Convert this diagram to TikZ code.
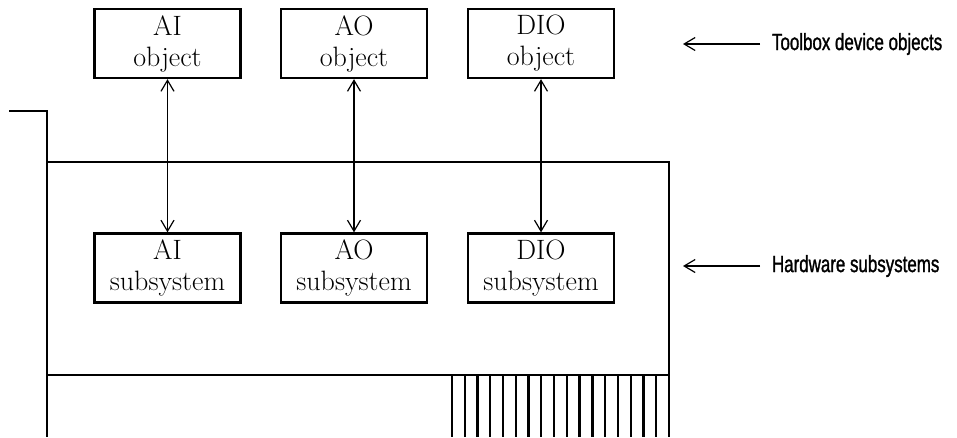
\documentclass[tikz,border=0pt]{standalone}
\usepackage{fontspec}
\usetikzlibrary{arrows.meta}
\newfontfamily\labelfont[FakeStretch=0.72,FakeBold=1.2]{Liberation Sans}

\begin{document}
\begin{tikzpicture}[
        x=1pt, y=-1pt,
        >={Straight Barb[length=11pt,width=13pt]},
        board/.style={line width=2.3pt},
        unitbox/.style={draw, line width=2.3pt, minimum width=146pt, minimum height=69pt,
            align=center, inner sep=0pt, font=\fontsize{28}{31}\selectfont},
        link/.style={<->, line width=1.2pt},
        sidelabel/.style={anchor=west, inner sep=0pt, outer xsep=12pt,
            font=\labelfont\fontsize{23.5}{26}\selectfont},
        pointer/.style={->, line width=1.2pt}
    ]
    \useasboundingbox (0,0) rectangle (957,437);

    % board outline
    \draw[board] (9,111) -- (47,111) -- (47,437);
    \draw[board] (47,162) -- (669,162) -- (669,437);
    \draw[board] (47,375) -- (669,375);
    % connector pins
    \foreach \k in {0,...,16}
        \draw[board] (452+\k*12.76,375) -- (452+\k*12.76,437);

    % toolbox objects
    \node[unitbox] (aiobj)  at (167.5,43.5) {AI\\object};
    \node[unitbox] (aoobj)  at (354,43.5)   {AO\\object};
    \node[unitbox] (dioobj) at (541,43.5)   {DIO\\object};

    % hardware subsystems
    \node[unitbox] (aisub)  at (167.5,268) {AI\\subsystem};
    \node[unitbox] (aosub)  at (354,268)   {AO\\subsystem};
    \node[unitbox] (diosub) at (541,268)   {DIO\\subsystem};

    \draw[link] (aiobj) -- (aisub);
    \draw[link] (aoobj) -- (aosub);
    \draw[link] (dioobj) -- (diosub);

    % labels on the right
    \node[sidelabel] (lblobj) at (760,44) {Toolbox device objects};
    \node[sidelabel] (lblsub) at (760,266) {Hardware subsystems};
    \coordinate (tipobj) at (683,44);
    \coordinate (tipsub) at (683,266);
    \draw[pointer] (lblobj) -- (tipobj);
    \draw[pointer] (lblsub) -- (tipsub);
\end{tikzpicture}
\end{document}
